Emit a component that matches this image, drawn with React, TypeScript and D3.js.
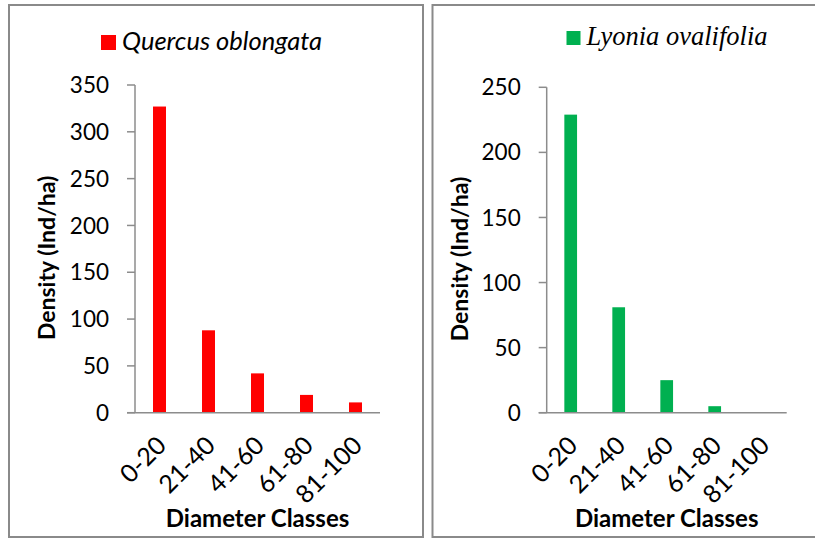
import React from "react";
import * as d3 from "d3";

// Diameter-class distribution of tree density for two species
const categories = ["0-20", "21-40", "41-60", "61-80", "81-100"];
const quercusValues = [327, 88, 42, 19, 11];
const lyoniaValues = [229, 81, 25, 5, 0];
const quercusTicks = [0, 50, 100, 150, 200, 250, 300, 350];
const lyoniaTicks = [0, 50, 100, 150, 200, 250];

const SANS = "Lato, 'Open Sans', sans-serif";
const SERIF = "'Liberation Serif', 'DejaVu Serif', serif";
const AXIS_GREY = "#8c8c8c";
const FRAME_GREY = "#8a8a8a";

type PanelProps = {
  frame: [number, number, number, number];
  plot: { left: number; right: number; top: number; bottom: number };
  values: number[];
  ticks: number[];
  color: string;
  name: string;
  nameFont: string;
  nameSize: number;
  legend: { x: number; y: number; size: number };
  yTitleX: number;
};

function Panel(p: PanelProps) {
  const x = d3
    .scaleBand<string>()
    .domain(categories)
    .range([p.plot.left, p.plot.right])
    .paddingInner(0.735)
    .paddingOuter(0.3675);
  const maxTick = d3.max(p.ticks) as number;
  const y = d3.scaleLinear().domain([0, maxTick]).range([p.plot.bottom, p.plot.top]);
  const [fx, fy, fw, fh] = p.frame;
  const midX = (p.plot.left + p.plot.right) / 2;
  const midY = (p.plot.top + p.plot.bottom) / 2;
  return (
    <g>
      <rect x={fx} y={fy} width={fw} height={fh} fill="#fff" stroke={FRAME_GREY} strokeWidth={2} />
      {/* legend */}
      <rect x={p.legend.x} y={p.legend.y - p.legend.size} width={p.legend.size} height={p.legend.size} fill={p.color} />
      <text
        x={p.legend.x + p.legend.size + 6}
        y={p.legend.y}
        fontFamily={p.nameFont}
        fontStyle="italic"
        fontSize={p.nameSize}
        fill="#000"
      >
        {p.name}
      </text>
      {/* bars */}
      {p.values.map((v, i) => (
        <rect
          key={categories[i]}
          x={x(categories[i])}
          y={y(v)}
          width={x.bandwidth()}
          height={p.plot.bottom - y(v)}
          fill={p.color}
        />
      ))}
      {/* y axis */}
      <line x1={p.plot.left} x2={p.plot.left} y1={y(maxTick)} y2={p.plot.bottom} stroke={AXIS_GREY} strokeWidth={1.5} />
      {p.ticks.map((t) => (
        <g key={t}>
          <line x1={p.plot.left - 8} x2={p.plot.left} y1={y(t)} y2={y(t)} stroke={AXIS_GREY} strokeWidth={1.5} />
          <text
            x={p.plot.left - 26}
            y={y(t)}
            dy="0.36em"
            textAnchor="end"
            fontFamily={SANS}
            fontSize={22.5}
            fill="#000"
          >
            {t}
          </text>
        </g>
      ))}
      {/* x axis */}
      <line x1={p.plot.left - 8} x2={p.plot.right} y1={p.plot.bottom} y2={p.plot.bottom} stroke={AXIS_GREY} strokeWidth={1.5} />
      {categories.map((c) => {
        const cx = (x(c) as number) + x.bandwidth() / 2;
        const ty = p.plot.bottom + 22;
        return (
          <text
            key={c}
            transform={`translate(${cx - 4},${ty}) rotate(-45)`}
            textAnchor="end"
            dy="0.7em"
            fontFamily={SANS}
            fontSize={25}
            fill="#000"
          >
            {c}
          </text>
        );
      })}
      {/* axis titles */}
      <text
        transform={`translate(${p.yTitleX},${midY + 9}) rotate(-90)`}
        textAnchor="middle"
        fontFamily={SANS}
        fontWeight="bold"
        fontSize={23}
        fill="#000"
      >
        Density (Ind/ha)
      </text>
      <text
        x={midX}
        y={527}
        textAnchor="middle"
        fontFamily={SANS}
        fontWeight="bold"
        fontSize={24}
        fill="#000"
      >
        Diameter Classes
      </text>
    </g>
  );
}

export default function App() {
  return (
    <svg
      width={815}
      height={538}
      viewBox="0 0 815 538"
      style={{ position: "absolute", left: 0, top: 0, background: "#fff" }}
    >
      <rect width={815} height={538} fill="#fff" />
      <Panel
        frame={[9, 5, 414, 532]}
        plot={{ left: 135, right: 380, top: 85, bottom: 412.7 }}
        values={quercusValues}
        ticks={quercusTicks}
        color="#ff0000"
        name="Quercus oblongata"
        nameFont={SANS}
        nameSize={25.5}
        legend={{ x: 101, y: 50, size: 15 }}
        yTitleX={55}
      />
      <Panel
        frame={[432.5, 5, 390, 532]}
        plot={{ left: 546.7, right: 786.7, top: 87.3, bottom: 412.7 }}
        values={lyoniaValues}
        ticks={lyoniaTicks}
        color="#00b050"
        name="Lyonia ovalifolia"
        nameFont={SERIF}
        nameSize={26.5}
        legend={{ x: 566.5, y: 45, size: 14 }}
        yTitleX={468}
      />
    </svg>
  );
}
